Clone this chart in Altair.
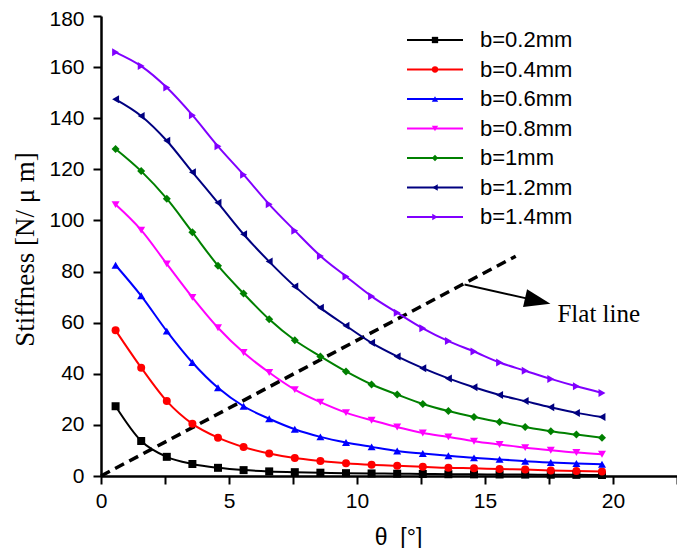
import altair as alt
import pandas as pd

# ---------------- data ----------------
theta = [0.57, 1.57, 2.57, 3.57, 4.57, 5.57, 6.57, 7.57, 8.57, 9.57,
         10.57, 11.57, 12.57, 13.57, 14.57, 15.57, 16.57, 17.57, 18.57, 19.57]

series_names = ["b=0.2mm", "b=0.4mm", "b=0.6mm", "b=0.8mm", "b=1mm", "b=1.2mm", "b=1.4mm"]

b02 = [27.3, 13.7, 7.5, 4.7, 3.2, 2.3, 1.8, 1.5, 1.3, 1.1, 1.0, 0.9, 0.8, 0.7, 0.65, 0.6, 0.55, 0.5, 0.45, 0.4]
b04 = [57.0, 42.4, 29.3, 20.4, 15.0, 11.3, 8.8, 7.0, 5.9, 5.0, 4.4, 4.0, 3.6, 3.2, 3.0, 2.7, 2.5, 2.2, 2.0, 1.8]
b06 = [82.5, 70.5, 56.7, 44.4, 34.5, 27.3, 22.4, 18.3, 15.3, 13.1, 11.4, 9.8, 8.8, 7.9, 7.1, 6.5, 5.8, 5.3, 4.9, 4.6]
b08 = [106.2, 96.2, 83.0, 69.9, 58.0, 48.3, 40.5, 33.8, 28.9, 24.8, 21.8, 19.2, 16.8, 15.3, 13.6, 12.3, 11.1, 10.1, 9.2, 8.5]
b10 = [128.0, 119.3, 108.5, 95.4, 82.3, 71.4, 61.3, 53.1, 46.8, 40.9, 35.8, 31.9, 28.2, 25.4, 23.1, 21.1, 19.2, 17.5, 16.2, 15.0]
b12 = [147.4, 140.9, 131.2, 118.9, 106.9, 94.6, 83.9, 74.2, 65.8, 58.8, 52.1, 46.8, 42.2, 38.2, 34.7, 31.7, 29.3, 26.9, 24.7, 23.1]
b14 = [165.8, 160.4, 152.0, 141.2, 129.0, 117.9, 106.3, 96.0, 86.1, 78.1, 70.3, 63.9, 57.8, 52.8, 48.7, 44.4, 41.2, 38.0, 35.1, 32.5]

colors = ["#000000", "#FF0000", "#0000FF", "#FF00FF", "#008000", "#000080", "#8000FF"]
shapes = ["square", "circle", "triangle-up", "triangle-down", "diamond", "triangle-left", "triangle-right"]

flat_theta = [0.0, 16.2]
flat_stiff = [0.0, 86.0]

arrow_theta = [14.2, 16.66]
arrow_stiff = [74.9, 69.4]
arrow_head_theta = [17.06]
arrow_head_stiff = [68.5]
label_theta = [17.83]
label_stiff = [63.4]

x_ticks = [0, 2.5, 5, 7.5, 10, 12.5, 15, 17.5, 20, 22.5]
y_ticks = [0, 10, 20, 30, 40, 50, 60, 70, 80, 90, 100, 110, 120, 130, 140, 150, 160, 170, 180]

# ---------------- tables ----------------
all_vals = [b02, b04, b06, b08, b10, b12, b14]
rows = []
for name, vals in zip(series_names, all_vals):
    for t, v in zip(theta, vals):
        rows.append({"theta": t, "stiffness": v, "series": name})
df = pd.DataFrame(rows)

leg_df = pd.DataFrame({"series": series_names, "row": list(range(len(series_names)))})
flat_df = pd.DataFrame({"theta": flat_theta, "stiffness": flat_stiff})
arrow_df = pd.DataFrame({"theta": arrow_theta, "stiffness": arrow_stiff})
head_df = pd.DataFrame({"theta": arrow_head_theta, "stiffness": arrow_head_stiff})
label_df = pd.DataFrame({"theta": label_theta, "stiffness": label_stiff, "txt": ["Flat line"]})

W, H = 576, 460
SANS = "Liberation Sans"
SERIF = "Liberation Serif"

color_scale = alt.Scale(domain=series_names, range=colors)
shape_scale = alt.Scale(domain=series_names, range=shapes)

x_scale = alt.Scale(domain=[0, 22.5], nice=False, zero=False)
y_scale = alt.Scale(domain=[0, 180], nice=False)

x_axis = alt.Axis(
    values=x_ticks, labelExpr="datum.value % 5 == 0 ? datum.label : ''",
    grid=False, tickSize=8, tickWidth=2, domainWidth=2.5, domainColor="black", tickColor="black",
    labelFont=SANS, labelFontSize=21, labelColor="black", labelPadding=6, labelFlush=False,
    labelOverlap=False,
    title="θ\u00a0\u00a0[°]", titleFont=SANS, titleFontSize=23, titleFontWeight="normal",
    titleColor="black", titleX=297, titleY=61, titleBaseline="middle", titleAnchor="middle",
)
y_axis = alt.Axis(
    values=y_ticks, labelExpr="datum.value % 20 == 0 ? datum.label : ''",
    grid=False, tickSize=8, tickWidth=2, domainWidth=2.5, domainColor="black", tickColor="black",
    labelFont=SANS, labelFontSize=21, labelColor="black", labelPadding=9, labelFlush=False,
    labelOverlap=False,
    labelOffset={"condition": {"test": "datum.value == 180", "value": 3}, "value": 0},
    title="Stiffness [N/ μ m]", titleFont=SERIF, titleFontSize=27, titleFontWeight="normal",
    titleColor="black", titleAngle=-90, titleX=-68, titleY=233, titleBaseline="alphabetic",
    titleAlign="center",
)

base = alt.Chart(df)

lines = base.mark_line(strokeWidth=2, interpolate="monotone").encode(
    x=alt.X("theta:Q", scale=x_scale, axis=x_axis),
    y=alt.Y("stiffness:Q", scale=y_scale, axis=y_axis),
    color=alt.Color("series:N", scale=color_scale, legend=None),
    detail="series:N",
)
points = base.mark_point(filled=True, size=64, opacity=1).encode(
    x=alt.X("theta:Q", scale=x_scale),
    y=alt.Y("stiffness:Q", scale=y_scale),
    color=alt.Color("series:N", scale=color_scale, legend=None),
    shape=alt.Shape("series:N", scale=shape_scale, legend=None),
)

flat = alt.Chart(flat_df).mark_line(color="black", strokeWidth=3.5, strokeDash=[10, 6]).encode(
    x=alt.X("theta:Q", scale=x_scale), y=alt.Y("stiffness:Q", scale=y_scale)
)
arrow = alt.Chart(arrow_df).mark_line(color="black", strokeWidth=2).encode(
    x=alt.X("theta:Q", scale=x_scale), y=alt.Y("stiffness:Q", scale=y_scale)
)
head = alt.Chart(head_df).mark_point(
    shape="M-1,-0.7L1,0L-1,0.7Z", filled=True, size=676, angle=12.7, color="black", opacity=1
).encode(x=alt.X("theta:Q", scale=x_scale), y=alt.Y("stiffness:Q", scale=y_scale))
flat_label = alt.Chart(label_df).mark_text(
    align="left", baseline="middle", font=SERIF, fontSize=25, color="black"
).encode(x=alt.X("theta:Q", scale=x_scale), y=alt.Y("stiffness:Q", scale=y_scale), text="txt:N")

# manual legend (line + marker + label)
leg = alt.Chart(leg_df).transform_calculate(ly="24 + 29.5 * datum.row")
leg_y = alt.Y("ly:Q", scale=None, axis=None)
leg_rule = leg.mark_rule(strokeWidth=2).encode(
    x=alt.value(306), x2=alt.value(362), y=leg_y,
    color=alt.Color("series:N", scale=color_scale, legend=None),
)
leg_pt = leg.mark_point(filled=True, size=40, opacity=1).encode(
    x=alt.value(334), y=leg_y,
    color=alt.Color("series:N", scale=color_scale, legend=None),
    shape=alt.Shape("series:N", scale=shape_scale, legend=None),
)
leg_txt = leg.mark_text(align="left", baseline="middle", font=SANS, fontSize=22, color="black").encode(
    x=alt.value(379), y=leg_y, text="series:N"
)

chart = alt.layer(
    flat, lines, points, arrow, head, flat_label, leg_rule, leg_pt, leg_txt
).properties(
    width=W, height=H,
    autosize=alt.AutoSizeParams(type="none"),
    padding={"left": 93, "top": 8, "right": 0, "bottom": 72},
    background="white",
).configure_view(stroke=None)

chart.save("out.html", embed_options={"renderer": "svg", "actions": False})
